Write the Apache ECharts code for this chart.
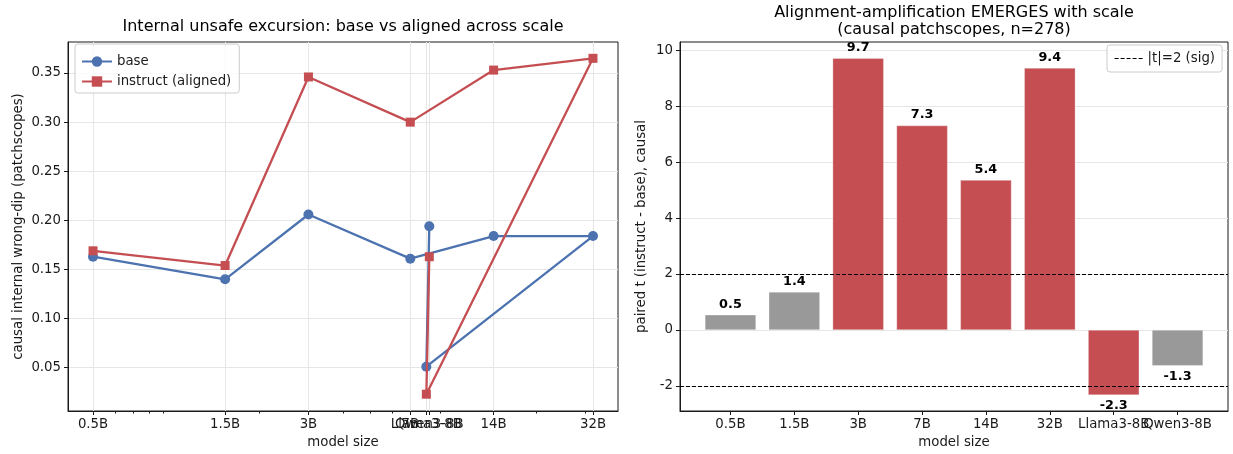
<!DOCTYPE html>
<html><head><meta charset="utf-8">
<script src="https://cdn.jsdelivr.net/npm/echarts@6/dist/echarts.min.js"></script>
<style>html,body{margin:0;padding:0;background:#fff}#c{width:1233px;height:454px}</style>
</head><body><div id="c"></div>
<script>
// ---- data ----
const sizeLabels = ['0.5B', '1.5B', '3B', '7B', '14B', '32B', 'Llama3-8B', 'Qwen3-8B'];
const sizeParams = [0.5, 1.5, 3, 7, 14, 32, 8.0, 8.2];            // billions of params (log x)
const baseDip = [0.163, 0.140, 0.206, 0.161, 0.184, 0.184, 0.051, 0.194];
const instructDip = [0.169, 0.154, 0.346, 0.300, 0.353, 0.365, 0.023, 0.163];
const pairedT = [0.54, 1.36, 9.72, 7.31, 5.36, 9.37, -2.33, -1.28];
const sigThreshold = 2;
const leftYTicks = [0.05, 0.10, 0.15, 0.20, 0.25, 0.30, 0.35];
const rightYTicks = [-2, 0, 2, 4, 6, 8, 10];
const minorXTicks = [0.6, 0.7, 0.8, 0.9, 2, 4, 5, 6, 9, 20, 30];
const barIndex = sizeLabels.map((_, i) => i);

// ---- style ----
const FONT = 'DejaVu Sans';
const BLUE = '#4c72b0', RED = '#c44e52', GRAY = '#999999';
const GRID = '#e6e6e6', INK = '#1a1a1a';
const FS = 13.3;
const tickFont = { fontFamily: FONT, fontSize: FS, color: INK };
const sortedSizes = sizeParams.slice().sort((a, b) => a - b);
const lastBar = barIndex[barIndex.length - 1];

function xName(v) {
  const i = sizeParams.findIndex(p => Math.abs(p - v) < 1e-6);
  return i >= 0 ? sizeLabels[i] : '';
}

const chart = echarts.init(document.getElementById('c'), null, { renderer: 'canvas' });
chart.setOption({
  animation: false,
  backgroundColor: '#fff',
  textStyle: { fontFamily: FONT },
  title: [
    { text: 'Internal unsafe excursion: base vs aligned across scale', left: 343, top: 19, padding: 0,
      textAlign: 'center', textStyle: { fontFamily: FONT, fontSize: 16, fontWeight: 'normal', color: '#000' } },
    { text: 'Alignment-amplification EMERGES with scale\n(causal patchscopes, n=278)', left: 954, top: 4, padding: 0,
      textAlign: 'center', textStyle: { fontFamily: FONT, fontSize: 16, lineHeight: 17.5, fontWeight: 'normal', color: '#000' } }
  ],
  legend: [
    { data: ['base', 'instruct (aligned)'], orient: 'vertical', left: 75, top: 44, itemWidth: 30, itemHeight: 13, itemGap: 5,
      padding: [10, 8, 4, 6], borderColor: '#cccccc', borderWidth: 1, borderRadius: 3, backgroundColor: 'rgba(255,255,255,0.8)',
      textStyle: { fontFamily: FONT, fontSize: FS, color: INK, lineHeight: 15 } },
    { data: [{ name: '|t|=2 (sig)', itemStyle: { opacity: 0 } }], left: 1107, top: 45, itemWidth: 28, itemHeight: 10,
      padding: [7, 7, 7, 7], borderColor: '#cccccc', borderWidth: 1, borderRadius: 3, backgroundColor: 'rgba(255,255,255,0.8)',
      lineStyle: { color: '#000', type: [4, 2], width: 1.2 },
      textStyle: { fontFamily: FONT, fontSize: FS, color: INK } }
  ],
  grid: [
    { left: 68, top: 42, width: 550, height: 369, show: true, borderColor: INK, borderWidth: 1, backgroundColor: 'transparent' },
    { left: 680, top: 42, width: 548, height: 369, show: true, borderColor: INK, borderWidth: 1, backgroundColor: 'transparent' }
  ],
  xAxis: [
    { gridIndex: 0, type: 'log', logBase: 10, min: 0.406, max: 39.4, position: 'bottom',
      name: 'model size', nameLocation: 'middle', nameGap: 25, nameTextStyle: { fontFamily: FONT, fontSize: FS, color: INK },
      axisLine: { show: true, lineStyle: { color: INK, width: 1 } },
      axisTick: { show: true, customValues: sortedSizes, length: 4, lineStyle: { color: INK } },
      axisLabel: Object.assign({ customValues: sortedSizes, formatter: xName, margin: 7, hideOverlap: false,
        showMinLabel: true, showMaxLabel: true }, tickFont),
      splitLine: { show: true, lineStyle: { color: GRID, width: 1 } },
      minorTick: { show: false } },
    { gridIndex: 0, type: 'log', logBase: 10, min: 0.406, max: 39.4, position: 'bottom',
      axisLine: { show: false },
      axisTick: { show: true, customValues: minorXTicks, length: 2.5, lineStyle: { color: INK } },
      axisLabel: { show: false }, splitLine: { show: false } },
    { gridIndex: 1, type: 'value', min: -0.79, max: 7.79, position: 'bottom',
      name: 'model size', nameLocation: 'middle', nameGap: 25, nameTextStyle: { fontFamily: FONT, fontSize: FS, color: INK },
      axisLine: { show: true, onZero: false, lineStyle: { color: INK, width: 1 } },
      axisTick: { show: true, customValues: barIndex, length: 4, lineStyle: { color: INK } },
      axisLabel: Object.assign({ customValues: barIndex.slice(0, -1), formatter: v => sizeLabels[Math.round(v)], margin: 7,
        hideOverlap: false, showMinLabel: true, showMaxLabel: true }, tickFont),
      splitLine: { show: false } },
    { gridIndex: 1, type: 'value', min: -0.79, max: 7.79, position: 'bottom',
      axisLine: { show: false }, axisTick: { show: false }, splitLine: { show: false },
      axisLabel: Object.assign({ customValues: [lastBar], formatter: v => sizeLabels[Math.round(v)], margin: 7,
        showMinLabel: true, showMaxLabel: true }, tickFont) }
  ],
  yAxis: [
    { gridIndex: 0, type: 'value', min: 0.0059, max: 0.3816,
      name: 'causal internal wrong-dip (patchscopes)', nameLocation: 'middle', nameGap: 43,
      nameTextStyle: { fontFamily: FONT, fontSize: FS, color: INK },
      axisLine: { show: true, lineStyle: { color: INK, width: 1 } },
      axisTick: { show: true, customValues: leftYTicks, length: 4, lineStyle: { color: INK } },
      axisLabel: Object.assign({ customValues: leftYTicks, formatter: v => v.toFixed(2), margin: 7 }, tickFont),
      splitLine: { show: true, lineStyle: { color: GRID, width: 1 } } },
    { gridIndex: 1, type: 'value', min: -2.9, max: 10.3,
      name: 'paired t (instruct - base), causal', nameLocation: 'middle', nameGap: 32,
      nameTextStyle: { fontFamily: FONT, fontSize: FS, color: INK },
      axisLine: { show: true, onZero: false, lineStyle: { color: INK, width: 1 } },
      axisTick: { show: true, customValues: rightYTicks, length: 4, lineStyle: { color: INK } },
      axisLabel: Object.assign({ customValues: rightYTicks, formatter: v => String(v), margin: 7 }, tickFont),
      splitLine: { show: true, lineStyle: { color: GRID, width: 1 } } }
  ],
  series: [
    { type: 'line', name: 'base', xAxisIndex: 0, yAxisIndex: 0,
      data: sizeParams.map((x, i) => [x, baseDip[i]]),
      symbol: 'circle', symbolSize: 10, color: BLUE, itemStyle: { color: BLUE },
      lineStyle: { color: BLUE, width: 2.3 }, z: 3 },
    { type: 'line', name: 'instruct (aligned)', xAxisIndex: 0, yAxisIndex: 0,
      data: sizeParams.map((x, i) => [x, instructDip[i]]),
      symbol: 'rect', symbolSize: 9, color: RED, itemStyle: { color: RED },
      lineStyle: { color: RED, width: 2.3 }, z: 4 },
    { type: 'bar', name: 'paired t', xAxisIndex: 2, yAxisIndex: 1, barWidth: '80%',
      data: pairedT.map((v, i) => ({
        value: [barIndex[i], v],
        itemStyle: { color: Math.abs(v) > sigThreshold ? RED : GRAY, borderColor: 'rgba(255,255,255,0.6)', borderWidth: 0.5 },
        label: { position: v >= 0 ? 'top' : 'bottom' }
      })),
      label: { show: true, distance: 4, formatter: p => p.value[1].toFixed(1),
        fontFamily: FONT, fontSize: 12.8, fontWeight: 'bold', color: '#000' },
      markLine: { silent: true, symbol: 'none', label: { show: false },
        lineStyle: { color: '#000', type: [4, 2], width: 1.2 },
        data: [{ yAxis: sigThreshold }, { yAxis: -sigThreshold }] },
      z: 2 },
    { type: 'line', name: '|t|=2 (sig)', xAxisIndex: 2, yAxisIndex: 1, data: [],
      symbol: 'none', color: '#000', lineStyle: { color: '#000', type: [4, 2], width: 1.2 } }
  ]
});
</script></body></html>
